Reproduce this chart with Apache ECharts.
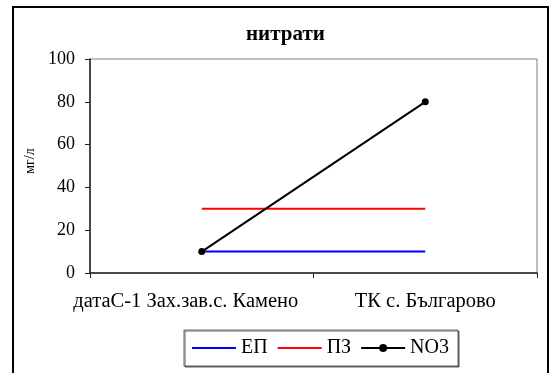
<!DOCTYPE html>
<html><head><meta charset="utf-8">
<script src="https://cdn.jsdelivr.net/npm/echarts@6/dist/echarts.min.js"></script>
<style>html,body{margin:0;padding:0;background:#fff}#c{width:553px;height:373px}</style>
</head><body><div id="c"></div>
<script>
const categories = ['датаС-1 Зах.зав.с. Камено', 'ТК с. Българово'];
const ep = [10, 10];
const pz = [30, 30];
const no3 = [10, 80];
const yTicks = [0, 20, 40, 60, 80, 100];

const FONT = '"Liberation Serif", "Times New Roman", serif';
const chart = echarts.init(document.getElementById('c'));
chart.setOption({
  animation: false,
  backgroundColor: '#fff',
  title: {
    text: 'нитрати', left: 246, top: 24, padding: 0,
    textStyle: {fontFamily: FONT, fontSize: 21, fontWeight: 'bold', color: '#000'}
  },
  graphic: [{
    type: 'rect', shape: {x: 13, y: 7, width: 535, height: 380},
    style: {fill: 'none', stroke: '#000', lineWidth: 2}, silent: true, z: 100
  }],
  grid: {left: 90, right: 16, top: 59, bottom: 100, show: true, borderColor: '#808080', borderWidth: 1, backgroundColor: 'transparent'},
  xAxis: {
    type: 'category', data: categories, boundaryGap: true,
    axisLine: {lineStyle: {color: '#222', width: 1.5}},
    axisTick: {show: true, interval: 0, length: 5, lineStyle: {color: '#222'}},
    axisLabel: {
      interval: 0, margin: 18, color: '#000', fontFamily: FONT, fontSize: 20.5,
      formatter: function (v, i) { return i === 0 ? '{a|' + v + '}' : v; },
      rich: {a: {fontFamily: FONT, fontSize: 20.5, color: '#000', padding: [0, 32, 0, 0]}}
    },
    splitLine: {show: false}
  },
  yAxis: {
    type: 'value', min: yTicks[0], max: yTicks[yTicks.length - 1], interval: 20,
    name: 'мг/л', nameLocation: 'middle', nameGap: 51, nameRotate: 90,
    nameTextStyle: {fontFamily: FONT, fontSize: 14, color: '#000', padding: [0, 0, 0, 10]},
    axisLine: {show: true, lineStyle: {color: '#222', width: 1.5}},
    axisTick: {show: true, length: 5, lineStyle: {color: '#222'}},
    axisLabel: {margin: 15, color: '#000', fontFamily: FONT, fontSize: 18},
    splitLine: {show: false}
  },
  legend: {
    left: 184, top: 330,
    padding: [8, 9, 8, 7],
    itemWidth: 44, itemHeight: 10, itemGap: 9,
    backgroundColor: '#fff', borderColor: '#666', borderWidth: 1,
    shadowColor: 'rgba(0,0,0,0.6)', shadowOffsetX: 1, shadowOffsetY: 1, shadowBlur: 0,
    textStyle: {fontFamily: FONT, fontSize: 20, color: '#000'},
    data: [
      {name: 'ЕП', itemStyle: {color: 'rgba(0,0,0,0)', borderWidth: 0}},
      {name: 'ПЗ', itemStyle: {color: 'rgba(0,0,0,0)', borderWidth: 0}},
      {name: 'NO3'}
    ]
  },
  series: [
    {name: 'ЕП', type: 'line', data: ep, symbol: 'none', lineStyle: {color: '#0000ff', width: 2}, itemStyle: {color: '#0000ff'}},
    {name: 'ПЗ', type: 'line', data: pz, symbol: 'none', lineStyle: {color: '#ff0000', width: 2}, itemStyle: {color: '#ff0000'}},
    {name: 'NO3', type: 'line', data: no3, symbol: 'circle', symbolSize: 7, lineStyle: {color: '#000', width: 2}, itemStyle: {color: '#000'}}
  ]
});
</script></body></html>
